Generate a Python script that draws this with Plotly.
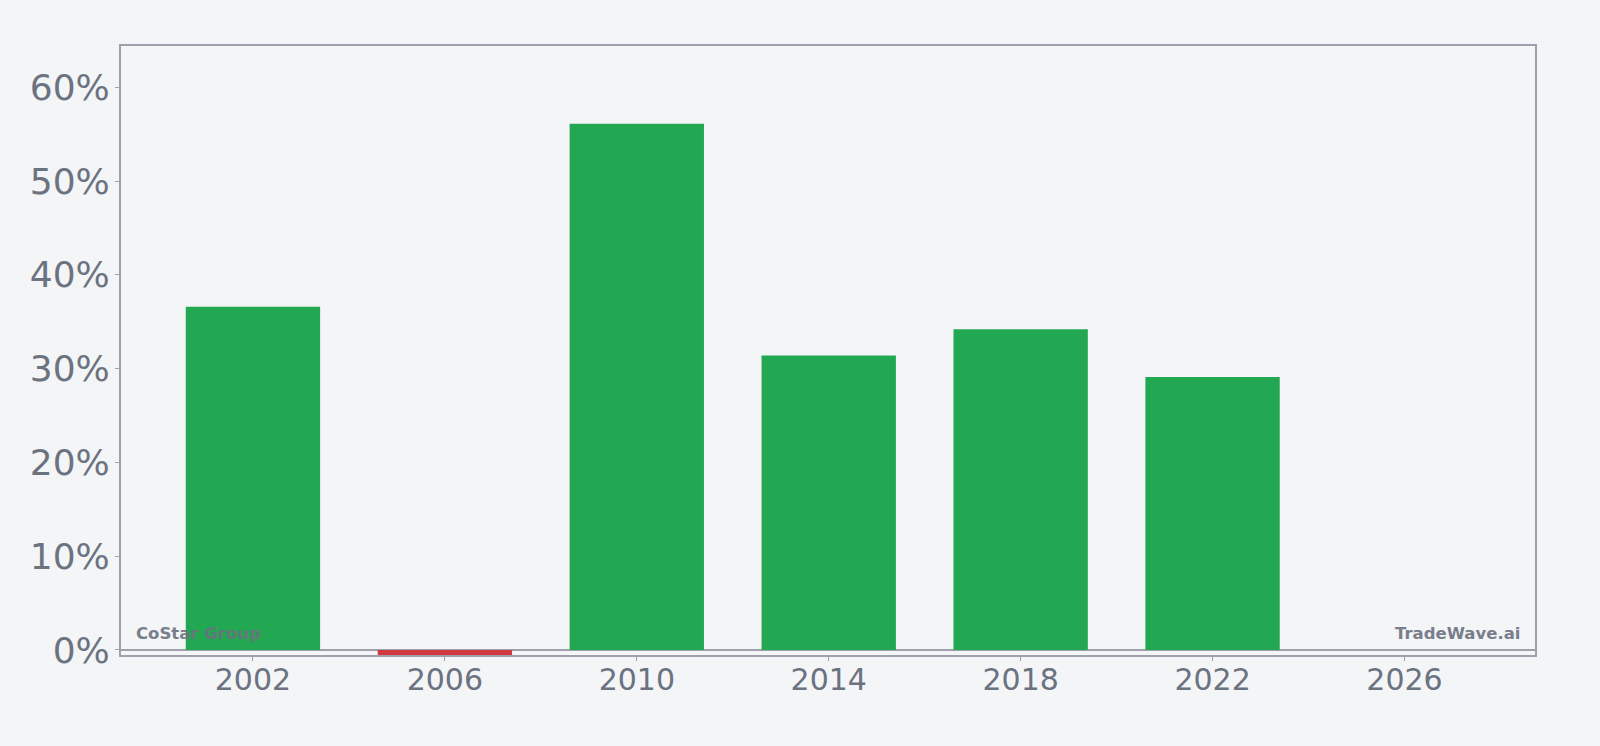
import plotly.graph_objects as go

years = [2002, 2006, 2010, 2014, 2018, 2022]
values = [36.6, -0.6, 56.1, 31.4, 34.2, 29.1]
colors = ["#22a852" if v >= 0 else "#d0393f" for v in values]

tick_vals_y = [0, 10, 20, 30, 40, 50, 60]
tick_text_y = [f"{v}%" for v in tick_vals_y]
tick_vals_x = [2002, 2006, 2010, 2014, 2018, 2022, 2026]

axis_col = "#9ea0ab"
text_col = "#6b7280"

fig = go.Figure()
fig.add_trace(go.Bar(x=years, y=values, marker=dict(color=colors, line=dict(width=0)), width=2.8))

fig.update_layout(
    width=1600, height=746,
    paper_bgcolor="#f4f5f7", plot_bgcolor="#f4f5f7",
    margin=dict(l=121, r=65, t=46, b=91),
    showlegend=False,
    font=dict(family="DejaVu Sans", color=text_col),
)
fig.update_xaxes(
    range=[1999.25, 2028.72], tickvals=tick_vals_x,
    showline=True, linecolor=axis_col, linewidth=2, mirror=True,
    ticks="outside", ticklen=4, tickcolor=axis_col, tickwidth=1,
    ticklabelstandoff=-7,
    tickfont=dict(size=30, color=text_col), showgrid=False, zeroline=False,
)
fig.update_yaxes(
    range=[-0.54, 64.4], tickvals=tick_vals_y, ticktext=tick_text_y,
    showline=True, linecolor=axis_col, linewidth=2, mirror=True,
    ticks="outside", ticklen=4, tickcolor=axis_col, tickwidth=1,
    ticklabelstandoff=-2,
    tickfont=dict(size=36, color=text_col), showgrid=False,
    zeroline=True, zerolinecolor=axis_col, zerolinewidth=2,
)
fig.add_annotation(text="<b>CoStar Group</b>", xref="paper", yref="paper", x=0, y=0,
                   xanchor="left", yanchor="bottom", xshift=13, yshift=10, showarrow=False,
                   font=dict(size=16.5, color=text_col, family="DejaVu Sans"), opacity=0.9)
fig.add_annotation(text="<b>TradeWave.ai</b>", xref="paper", yref="paper", x=1, y=0,
                   xanchor="right", yanchor="bottom", xshift=-13, yshift=10, showarrow=False,
                   font=dict(size=16.5, color=text_col, family="DejaVu Sans"), opacity=0.9)

fig.write_html("out.html")
